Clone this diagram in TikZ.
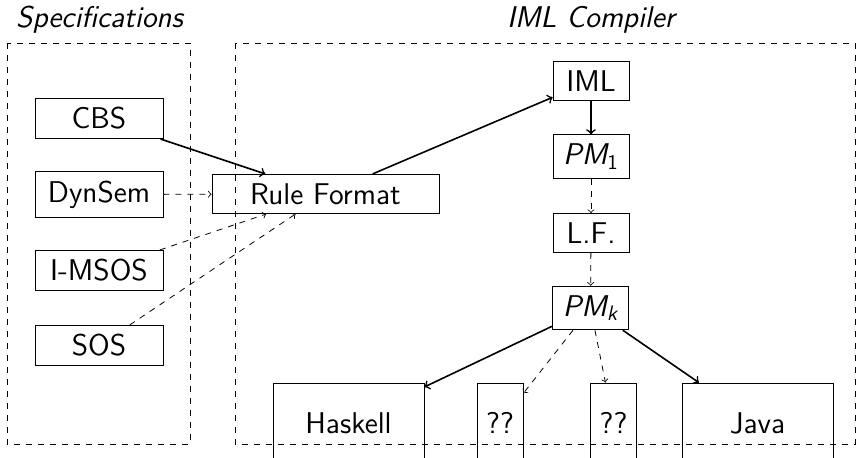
\documentclass[tikz,border=0pt]{standalone}
\usepackage{amsmath}
\begin{document}
\begin{tikzpicture}[
    x=0.5pt, y=-0.5pt,
    every node/.style={font=\sffamily\fontsize{15}{18}\selectfont, inner sep=4.55pt},
    lang/.style={draw, minimum width=64pt},
    stage/.style={draw, minimum width=38pt},
    target/.style={draw, minimum height=40pt},
    title/.style={font=\sffamily\itshape\fontsize{15}{18}\selectfont, anchor=base},
    frame/.style={dashed},
    main/.style={->, thick},
    side/.style={->, dashed}]
    \useasboundingbox (0,0) rectangle (856,458);

    % Two dashed frames and their titles.
    \draw[frame] (7,43) rectangle (190,444);
    \draw[frame] (235,43) rectangle (855,444);
    \node[title] (spectitle) at (99.5,27.7) {Specifications};
    \node[title] (comptitle) at (591,27.7) {IML Compiler};

    % Source formalisms.
    \node[lang] (cbs) at (99,118.5) {CBS};
    \node[lang] (dynsem) at (99,194.5) {DynSem};
    \node[lang] (imsos) at (99,270.5) {I-MSOS};
    \node[lang] (sos) at (99,345.5) {SOS};
    \node[draw, minimum width=113.5pt] (rule) at (325.5,194) {Rule Format};

    % Compiler pipeline.
    \node[stage] (iml) at (591,81) {IML};
    \node[stage] (pm1) at (591,156.5) {$\textit{PM}_{\text{1}}$};
    \node[stage] (lf) at (591,233) {L.F.};
    \node[stage] (pmk) at (590.5,308) {$\textit{PM}_{\textit{k}}$};

    % Back ends, cut off by the page edge.
    \node[target, minimum width=75.5pt] (haskell) at (348.5,423) {Haskell};
    \node[target, minimum width=23pt] (qa) at (500,423) {??};
    \node[target, minimum width=23pt] (qb) at (613.5,423) {??};
    \node[target, minimum width=75.5pt] (java) at (757.5,423) {Java};

    % Connectors.
    \draw[main] (cbs) -- (rule);
    \draw[side] (dynsem) -- (rule);
    \draw[side] (imsos) -- (rule);
    \draw[side] (sos) -- (rule);
    \draw[main] (rule) -- (iml);
    \draw[main] (iml) -- (pm1);
    \draw[side] (pm1) -- (lf);
    \draw[side] (lf) -- (pmk);
    \draw[main] (pmk) -- (haskell);
    \draw[side] (pmk) -- (qa);
    \draw[side] (pmk) -- (qb);
    \draw[main] (pmk) -- (java);
\end{tikzpicture}
\end{document}
